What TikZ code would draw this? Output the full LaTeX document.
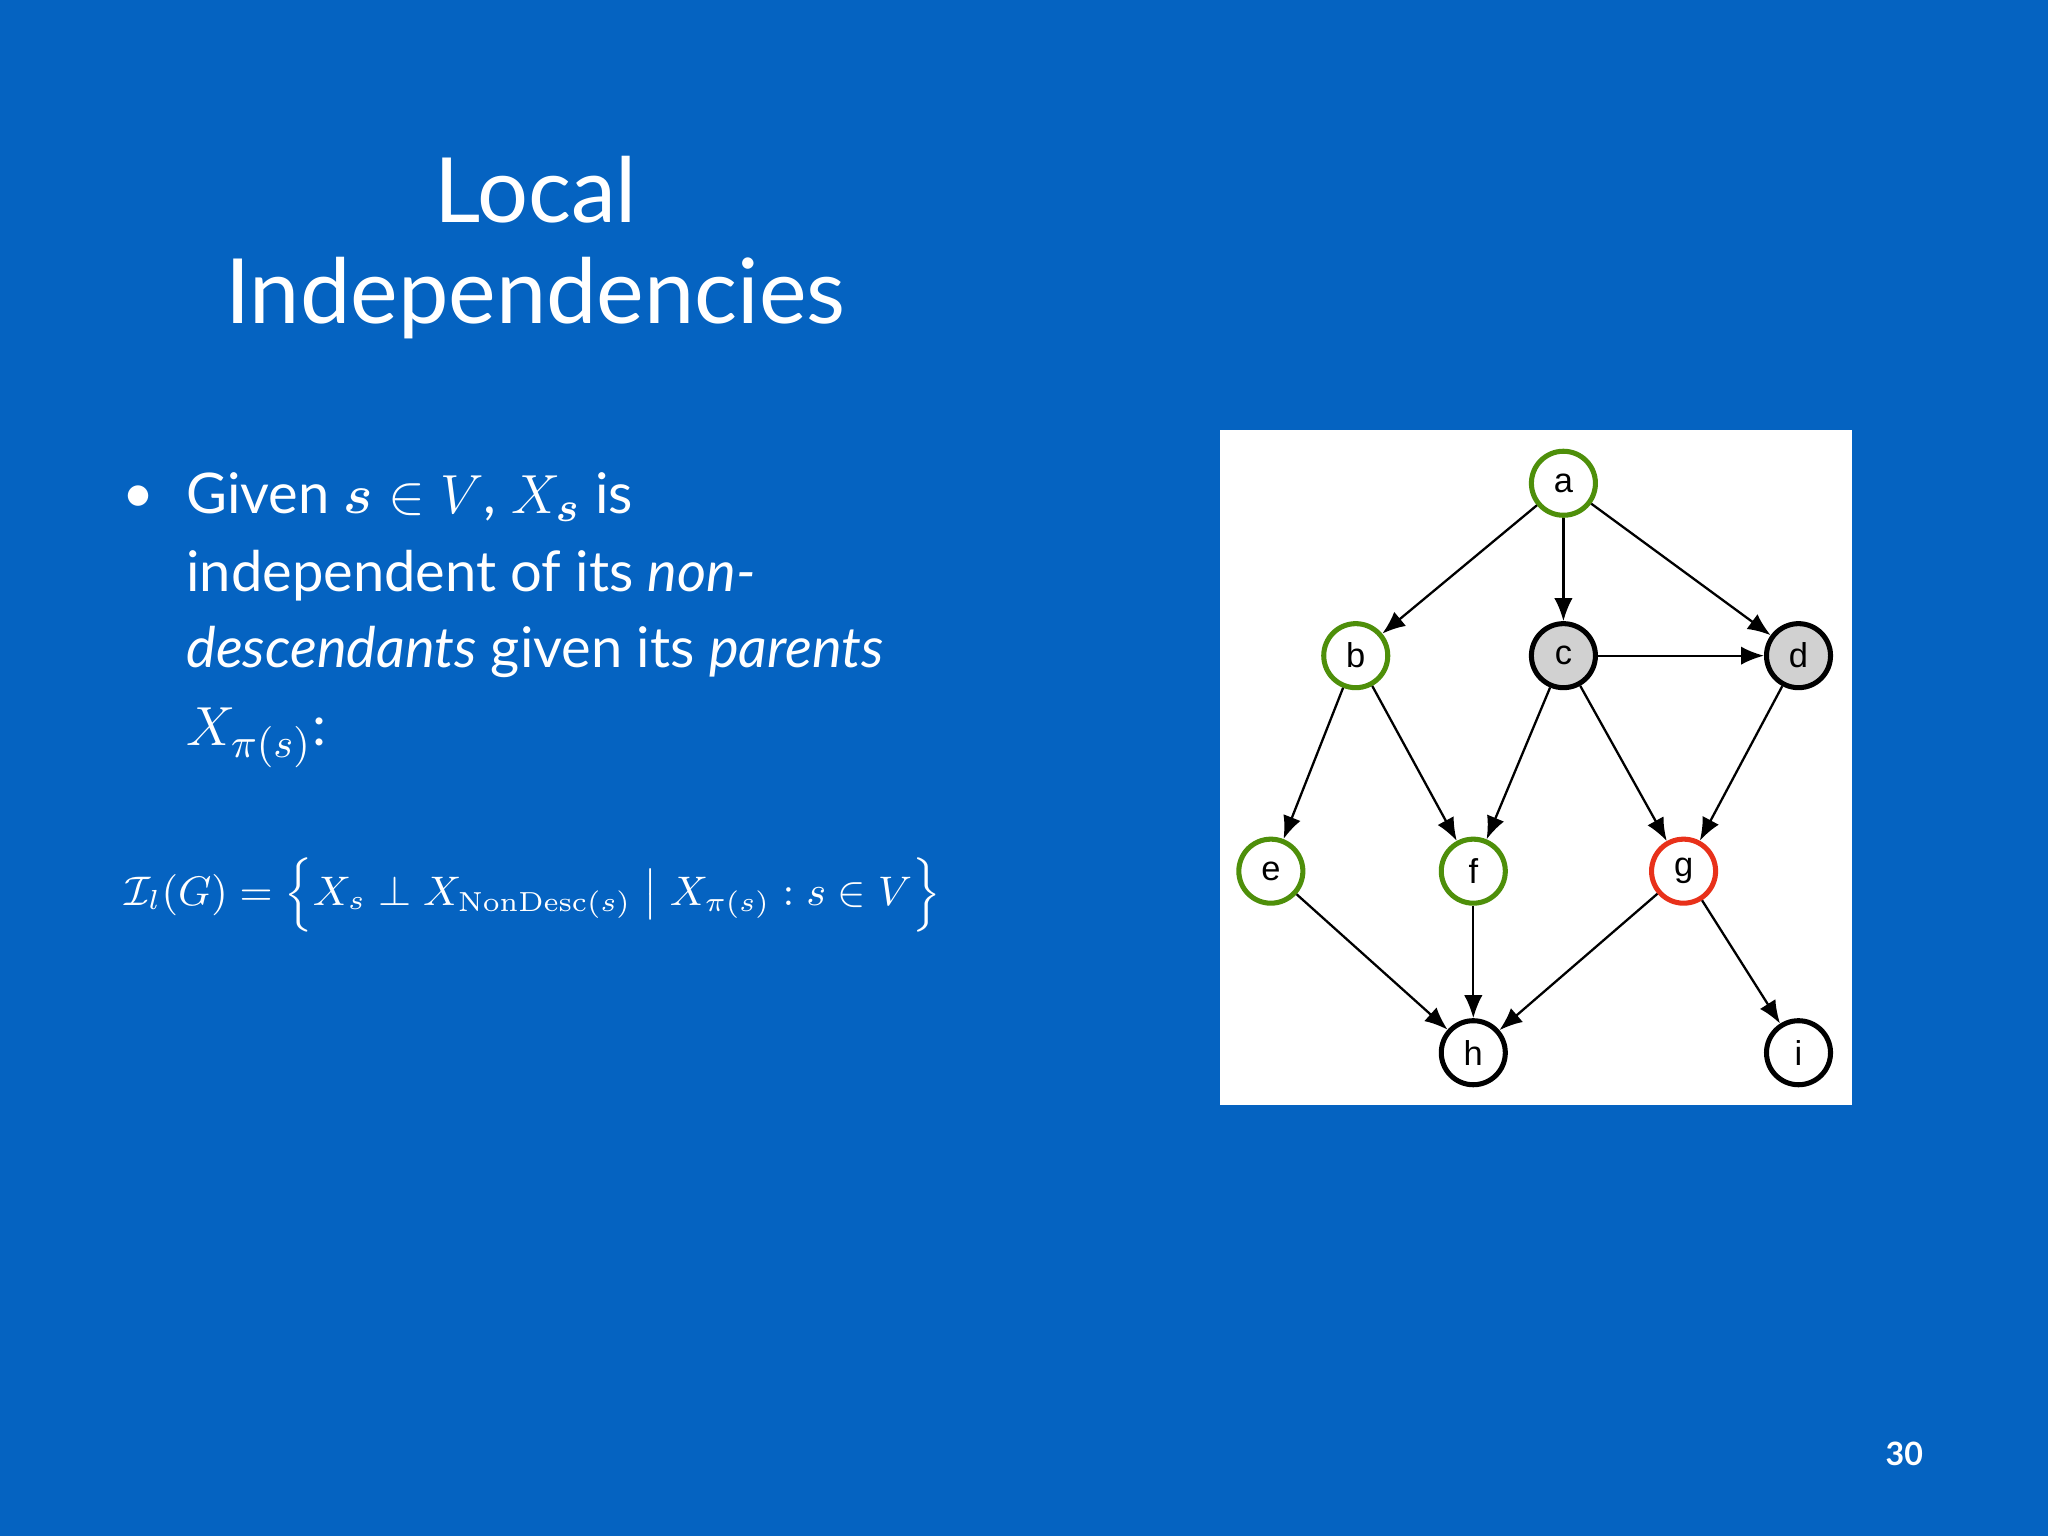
\documentclass[tikz,border=0pt]{standalone}
\usepackage{amsmath,amssymb}
\usepackage[no-math]{fontspec}
\setmainfont{Lato}
\newfontfamily\graphfont{Liberation Sans}
\usetikzlibrary{arrows.meta}
\definecolor{bg}{HTML}{0563C1}
\definecolor{grn}{HTML}{4E8F0A}
\definecolor{rd}{HTML}{E8311A}
\begin{document}
\begin{tikzpicture}[x=0.01cm,y=-0.01cm,
  vtx/.style={circle,draw,line width=1.1pt,minimum size=0.49cm,inner sep=0pt,fill=white,font=\graphfont\fontsize{7.5}{8}\selectfont},
  gv/.style={vtx,draw=grn},
  arr/.style={-{Latex[length=5pt,width=4pt]},line width=0.5pt}]
\fill[bg] (0,0) rectangle (1568,1176);
\useasboundingbox (0,0) rectangle (1568,1176);
\node[white,font=\fontsize{19.6}{20}\selectfont] (t1) at (410,145) {Local};
\node[white,font=\fontsize{19.6}{20}\selectfont] (t2) at (410,228) {Independencies};
\node[white,font=\fontsize{12}{12}\selectfont] (bul) at (106,382) {\textbullet};
\begin{scope}[every node/.style={white,anchor=base west,inner sep=0pt,font=\fontsize{12.2}{14}\selectfont}]
\node (l1) at (142,393) {Given $\boldsymbol{s}\in V$, $X_{\boldsymbol{s}}$ is};
\node (l2) at (142,453) {independent of its \textit{non-}};
\node (l3) at (142,511) {\textit{descendants} given its \textit{parents}};
\node (l4) at (142,571) {$X_{\pi(s)}$:};
\node[font=\fontsize{9}{11}\selectfont,anchor=west] (fm) at (95,685) {$\mathcal{I}_l(G)=\Big\{X_s\perp X_{\mathrm{NonDesc}(s)}\;\big|\;X_{\pi(s)}:s\in V\Big\}$};
\end{scope}
\fill[white] (934,329) rectangle (1418,846);
\node[gv] (a) at (1197,370) {a};
\node[gv] (b) at (1038,502) {b};
\node[vtx,fill=black!18] (c) at (1197,502) {c};
\node[vtx,fill=black!18] (d) at (1377,502) {d};
\node[gv] (e) at (973,667) {e};
\node[gv] (f) at (1128,667) {f};
\node[vtx,draw=rd] (g) at (1289,667) {g};
\node[vtx] (h) at (1128,806) {h};
\node[vtx] (i) at (1377,806) {i};
\foreach \u/\v in {a/b,a/c,a/d,c/d,b/e,b/f,c/f,c/g,d/g,e/h,f/h,g/h,g/i}
  \draw[arr] (\u) -- (\v);
\node[white,font=\bfseries\fontsize{7}{7}\selectfont] (pg) at (1458,1113) {30};
\end{tikzpicture}
\end{document}
